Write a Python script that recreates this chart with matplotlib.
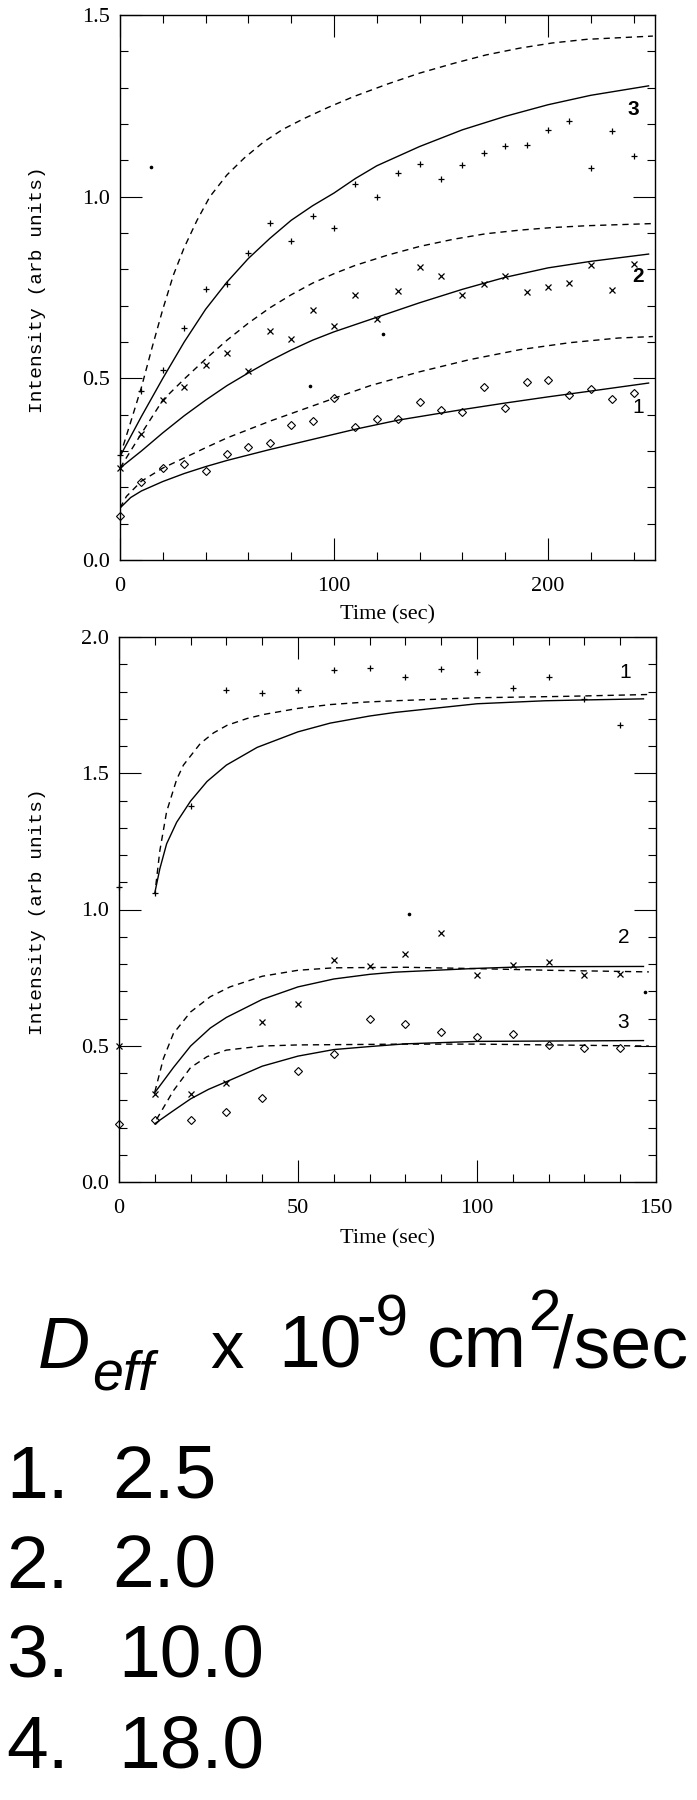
import matplotlib
matplotlib.use("Agg")
import matplotlib.pyplot as plt
from matplotlib.ticker import MultipleLocator

# ---- top panel data (time in sec, intensity in arb units) ----
top_t = [0, 10, 20, 30, 40, 50, 60, 70, 80, 90, 100, 110, 120, 130, 140, 150,
         160, 170, 180, 190, 200, 210, 220, 230, 240]
top_plus = [0.29, 0.465, 0.523, 0.638, 0.747, 0.759, 0.846, 0.928, 0.879, 0.947,
            0.914, 1.034, 0.998, 1.065, 1.090, 1.049, 1.088, 1.119, 1.140, 1.143,
            1.184, 1.209, 1.080, 1.180, 1.113]
top_cross = [0.253, 0.348, 0.44, 0.475, 0.536, 0.569, 0.520, 0.629, 0.608, 0.688,
             0.643, 0.728, 0.664, 0.740, 0.806, 0.783, 0.728, 0.760, 0.783, 0.737,
             0.751, 0.762, 0.811, 0.744, 0.816]
top_diam = [0.120, 0.214, 0.253, 0.265, 0.244, 0.293, 0.310, 0.321, 0.371, 0.383,
            0.445, 0.367, 0.389, 0.387, 0.436, 0.413, 0.408, 0.475, 0.418, 0.490,
            0.495, 0.454, 0.470, 0.444, 0.460]
top_specks_t = [14.3, 88.8, 123]
top_specks_v = [1.083, 0.479, 0.622]

t3_solid = [0, 10, 20, 30, 40, 50, 60, 70, 80, 90, 100, 110, 120, 140, 160, 180, 200, 220, 247]
v3_solid = [0.285, 0.395, 0.50, 0.60, 0.69, 0.765, 0.83, 0.885, 0.935, 0.975, 1.01, 1.05,
            1.085, 1.138, 1.184, 1.221, 1.253, 1.279, 1.305]
t3_dash = [0, 5, 10, 15, 20, 25, 30, 36, 42, 50, 58, 67, 76, 86, 97, 109, 125, 140, 156,
           171, 187, 202, 218, 249]
v3_dash = [0.286, 0.38, 0.475, 0.585, 0.69, 0.785, 0.86, 0.935, 1.0, 1.06, 1.106, 1.15,
           1.185, 1.215, 1.245, 1.275, 1.31, 1.34, 1.367, 1.39, 1.409, 1.423, 1.433, 1.442]
t2_solid = [0, 10, 20, 30, 40, 50, 60, 70, 80, 90, 100, 120, 140, 160, 180, 200, 220, 247]
v2_solid = [0.253, 0.30, 0.35, 0.397, 0.44, 0.48, 0.515, 0.548, 0.578, 0.605, 0.628, 0.668,
            0.708, 0.745, 0.778, 0.804, 0.822, 0.842]
t2_dash = [0, 10, 20, 30, 40, 50, 60, 70, 80, 90, 100, 110, 125, 140, 156, 171, 187, 202, 218, 249]
v2_dash = [0.253, 0.348, 0.44, 0.498, 0.553, 0.605, 0.652, 0.694, 0.73, 0.762, 0.788, 0.811,
           0.839, 0.863, 0.883, 0.898, 0.908, 0.915, 0.92, 0.926]
t1_solid = [0, 5, 10, 20, 30, 40, 50, 60, 70, 80, 90, 100, 110, 130, 160, 180, 200, 220, 247]
v1_solid = [0.143, 0.172, 0.19, 0.216, 0.238, 0.257, 0.274, 0.289, 0.304, 0.318, 0.332, 0.346,
            0.36, 0.385, 0.414, 0.432, 0.449, 0.465, 0.487]
t1_dash = [0, 3, 10, 20, 30, 40, 50, 60, 70, 80, 90, 100, 117, 140, 163, 187, 210, 233, 249]
v1_dash = [0.143, 0.175, 0.217, 0.253, 0.281, 0.309, 0.336, 0.359, 0.382, 0.403, 0.424, 0.445,
           0.48, 0.518, 0.551, 0.579, 0.598, 0.611, 0.615]

# ---- bottom panel data ----
bot_t = [0, 10, 20, 30, 40, 50, 60, 70, 80, 90, 100, 110, 120, 130, 140]
bot_plus = [1.083, 1.061, 1.379, 1.806, 1.795, 1.806, 1.878, 1.888, 1.852, 1.882,
            1.871, 1.812, 1.854, 1.773, 1.678]
bot_cross = [0.50, 0.322, 0.322, 0.364, 0.587, 0.654, 0.814, 0.794, 0.837, 0.915,
             0.758, 0.798, 0.808, 0.758, 0.764]
bot_diam = [0.214, 0.226, 0.226, 0.256, 0.309, 0.407, 0.469, 0.598, 0.580, 0.552,
            0.532, 0.542, 0.502, 0.492, 0.492]
bot_specks_t = [81, 147]
bot_specks_v = [0.985, 0.696]

b1_solid_t = [10, 11.4, 13.3, 16.1, 20, 24.6, 30, 38.6, 50, 59, 70, 77, 100, 119, 130, 146.5]
b1_solid_v = [1.061, 1.149, 1.241, 1.32, 1.398, 1.47, 1.53, 1.595, 1.652, 1.684, 1.71,
              1.723, 1.755, 1.766, 1.769, 1.773]
b1_dash_t = [10.3, 11.4, 13.3, 16.1, 18, 22.7, 26.4, 30.2, 35.8, 40.5, 50, 59, 68.6, 77,
             100, 124, 148]
b1_dash_v = [1.09, 1.215, 1.359, 1.477, 1.53, 1.609, 1.648, 1.676, 1.701, 1.716, 1.738,
             1.752, 1.761, 1.766, 1.777, 1.782, 1.789]
b2_solid_t = [10, 15.2, 20, 25.5, 30, 40, 50, 60, 70, 77, 100, 114, 146.5]
b2_solid_v = [0.328, 0.42, 0.499, 0.565, 0.604, 0.67, 0.716, 0.745, 0.762, 0.77, 0.784,
              0.79, 0.791]
b2_dash_t = [10, 12.4, 15.2, 20, 25.5, 31, 40, 50, 60, 80, 100, 120, 148]
b2_dash_v = [0.33, 0.453, 0.545, 0.624, 0.68, 0.716, 0.755, 0.777, 0.786, 0.788, 0.783,
             0.777, 0.771]
b3_solid_t = [10, 15, 20, 25, 30, 40, 50, 60, 70, 80, 100, 146.5]
b3_solid_v = [0.214, 0.26, 0.305, 0.34, 0.368, 0.425, 0.462, 0.486, 0.497, 0.507, 0.516, 0.519]
b3_dash_t = [10.5, 15.2, 20, 24.6, 30, 40, 50, 80, 100, 148]
b3_dash_v = [0.23, 0.335, 0.42, 0.46, 0.484, 0.499, 0.503, 0.506, 0.506, 0.499]

deff_ids = ["1.", "2.", "3.", "4."]
deff_vals = ["2.5", "2.0", "10.0", "18.0"]

W, H = 697, 1800
SERIF = "Liberation Serif"
SANS = "Liberation Sans"
MONO = "Liberation Mono"


def fx(px):
    return px / W


def fy(py):
    return 1 - py / H


def style_axes(ax, xmaj, xmin, ymaj, ymin):
    ax.xaxis.set_major_locator(MultipleLocator(xmaj))
    ax.xaxis.set_minor_locator(MultipleLocator(xmin))
    ax.yaxis.set_major_locator(MultipleLocator(ymaj))
    ax.yaxis.set_minor_locator(MultipleLocator(ymin))
    ax.tick_params(which="both", direction="in", top=True, right=True,
                   width=0.8, color="black")
    ax.tick_params(which="major", length=16)
    ax.tick_params(which="minor", length=6)
    ax.tick_params(axis="x", which="major", pad=12, labelsize=16)
    ax.tick_params(axis="y", which="major", pad=7, labelsize=16)
    for sp in ax.spines.values():
        sp.set_linewidth(1.0)


def draw_points(ax, t, plus, cross, diam):
    ax.plot(t, plus, ls="none", marker="+", ms=5, mew=0.9, color="black", clip_on=False)
    ax.plot(t, cross, ls="none", marker="x", ms=4.2, mew=0.9, color="black", clip_on=False)
    ax.plot(t, diam, ls="none", marker="D", ms=3.6, mew=0.8, mfc="none",
            color="black", clip_on=False)


fig = plt.figure(figsize=(W / 100, H / 100), dpi=100)
dash = (0, (4.5, 3.5))

# top panel
ax1 = fig.add_axes([fx(120), fy(560), 535 / W, 545 / H])
for t, v in [(t3_solid, v3_solid), (t2_solid, v2_solid), (t1_solid, v1_solid)]:
    ax1.plot(t, v, color="black", lw=1.0)
for t, v in [(t3_dash, v3_dash), (t2_dash, v2_dash), (t1_dash, v1_dash)]:
    ax1.plot(t, v, color="black", lw=1.0, ls=dash)
draw_points(ax1, top_t, top_plus, top_cross, top_diam)
ax1.plot(top_specks_t, top_specks_v, ls="none", marker="o", ms=1.6, color="black")
ax1.set_xlim(0, 250)
ax1.set_ylim(0, 1.5)
style_axes(ax1, 100, 20, 0.5, 0.1)
ax1.set_xticks([0, 100, 200])
ax1.set_xticklabels(["0", "100", "200"], family=SERIF, fontsize=16)
ax1.set_yticks([0, 0.5, 1.0, 1.5])
ax1.set_yticklabels(["0.0", "0.5", "1.0", "1.5"], family=SERIF, fontsize=16)
ax1.text(240, 1.24, "3", family=SANS, fontsize=15, fontweight="bold", ha="center", va="center")
ax1.text(242, 0.78, "2", family=SANS, fontsize=15, fontweight="bold", ha="center", va="center")
ax1.text(242, 0.42, "1", family=SANS, fontsize=15, ha="center", va="center")

# bottom panel
ax2 = fig.add_axes([fx(119), fy(1182), 537 / W, 545 / H])
for t, v in [(b1_solid_t, b1_solid_v), (b2_solid_t, b2_solid_v), (b3_solid_t, b3_solid_v)]:
    ax2.plot(t, v, color="black", lw=1.0)
for t, v in [(b1_dash_t, b1_dash_v), (b2_dash_t, b2_dash_v), (b3_dash_t, b3_dash_v)]:
    ax2.plot(t, v, color="black", lw=1.0, ls=dash)
draw_points(ax2, bot_t, bot_plus, bot_cross, bot_diam)
ax2.plot(bot_specks_t, bot_specks_v, ls="none", marker="o", ms=1.6, color="black")
ax2.set_xlim(0, 150)
ax2.set_ylim(0, 2.0)
style_axes(ax2, 50, 10, 0.5, 0.1)
ax2.set_xticks([0, 50, 100, 150])
ax2.set_xticklabels(["0", "50", "100", "150"], family=SERIF, fontsize=16)
ax2.set_yticks([0, 0.5, 1.0, 1.5, 2.0])
ax2.set_yticklabels(["0.0", "0.5", "1.0", "1.5", "2.0"], family=SERIF, fontsize=16)
ax2.text(141.4, 1.87, "1", family=SANS, fontsize=15, ha="center", va="center")
ax2.text(141, 0.897, "2", family=SANS, fontsize=15, ha="center", va="center")
ax2.text(140.8, 0.584, "3", family=SANS, fontsize=15, ha="center", va="center")

# axis titles
for yc in (290, 912):
    fig.text(fx(38), fy(yc), "Intensity (arb units)", family=MONO, fontsize=14,
             rotation=90, ha="center", va="center")
for yc in (615, 1239):
    fig.text(fx(388), fy(yc), "Time (sec)", family=SERIF, fontsize=16,
             ha="center", va="center")

# D_eff caption
fig.text(fx(38), fy(1368), "D", family=SANS, fontsize=52, style="italic", va="baseline")
fig.text(fx(92), fy(1390), "eff", family=SANS, fontsize=40, style="italic", va="baseline")
fig.text(fx(210), fy(1368), "x", family=SANS, fontsize=48, va="baseline")
fig.text(fx(278), fy(1368), "10", family=SANS, fontsize=54, va="baseline")
fig.text(fx(356), fy(1335), "-9", family=SANS, fontsize=42, va="baseline")
fig.text(fx(427), fy(1368), "cm", family=SANS, fontsize=54, va="baseline")
fig.text(fx(528), fy(1330), "2", family=SANS, fontsize=42, va="baseline")
fig.text(fx(553), fy(1368), "/sec", family=SANS, fontsize=53, va="baseline")

for i, (k, val) in enumerate(zip(deff_ids, deff_vals)):
    base = 1498 + 90 * i
    fig.text(fx(6), fy(base), k, family=SANS, fontsize=54, va="baseline")
    fig.text(fx(112 if len(val) == 3 else 118), fy(base), val, family=SANS,
             fontsize=54, va="baseline")

fig.savefig("out.png", dpi=100)
